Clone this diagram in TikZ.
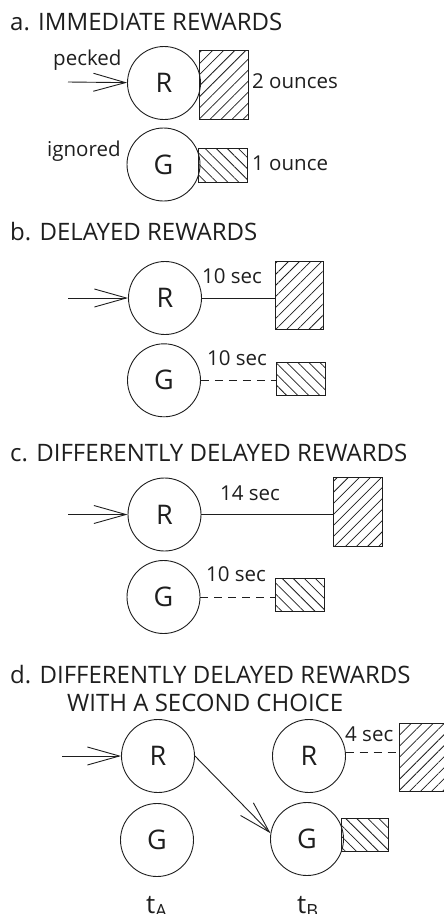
\documentclass[tikz,border=0pt]{standalone}
\usepackage{fontspec}
\setmainfont{Open Sans}
\usetikzlibrary{arrows.meta,patterns.meta}
\definecolor{ink}{HTML}{1E1E1E}
\tikzset{
  key/.style={circle, draw=ink, line width=0.9pt, minimum size=73pt, inner sep=0pt,
              font=\fontsize{27}{32}\selectfont, text=ink},
  bigbox/.style={draw=ink, line width=0.9pt, inner sep=0pt, anchor=north west,
                 pattern={Lines[angle=45, distance=7.8pt, line width=0.75pt]}, pattern color=ink},
  smallbox/.style={draw=ink, line width=0.9pt, inner sep=0pt, anchor=north west,
                 pattern={Lines[angle=-45, distance=7.8pt, line width=0.75pt]}, pattern color=ink},
  heading/.style={anchor=base west, inner sep=0pt, text=ink, font=\fontsize{24}{28}\selectfont},
  lbl/.style={anchor=base west, inner sep=0pt, text=ink, font=\fontsize{20.5}{24}\selectfont},
  wire/.style={draw=ink, line width=0.9pt},
  delay/.style={wire, dash pattern=on 8pt off 6pt},
  peck/.style={wire, -{Straight Barb[length=32pt, width=18pt, line width=0.9pt]}},
}
\begin{document}
\begin{tikzpicture}[x=1pt, y=-1pt]
\path[use as bounding box] (0,0) rectangle (444,914);
\clip (0,0) rectangle (444,914);

% ---- a. immediate rewards
\node[heading] (ta) at (10,30) {a. IMMEDIATE REWARDS};
\node[key] (Ra) at (164,83) {R};
\node[key] (Ga) at (163.5,164.5) {G};
\node[bigbox, minimum width=49pt, minimum height=69pt] (Ba) at (199,50) {};
\node[smallbox, minimum width=49pt, minimum height=34pt] (Sa) at (198,148) {};
\node[lbl] (pk) at (53,65) {pecked};
\node[lbl] (ig) at (47,156) {ignored};
\node[lbl] (oz2) at (252,88) {2 ounces};
\node[lbl] (oz1) at (252,170) {1 ounce};
\coordinate (ina) at (68,82);
\draw[peck] (ina) -- (Ra);

% ---- b. delayed rewards
\node[heading] (tb) at (10,240) {b. DELAYED REWARDS};
\node[key] (Rb) at (165,298) {R};
\node[key] (Gb) at (164,380.3) {G};
\node[bigbox, minimum width=48pt, minimum height=68pt] (Bb) at (275,261) {};
\node[smallbox, minimum width=49pt, minimum height=33pt] (Sb) at (276,362) {};
\node[lbl] (db1) at (202,283) {10 sec};
\node[lbl] (db2) at (207,365) {10 sec};
\coordinate (inb) at (68,298);
\draw[peck] (inb) -- (Rb);
\draw[wire] (Rb.east) -- (Rb.east -| Bb.west);
\draw[delay] (Gb.east) -- (Gb.east -| Sb.west);

% ---- c. differently delayed rewards
\node[heading] (tc) at (10,461.7) {c. DIFFERENTLY DELAYED REWARDS};
\node[key] (Rc) at (164.5,514.5) {R};
\node[key] (Gc) at (163.5,597) {G};
\node[bigbox, minimum width=49pt, minimum height=69pt] (Bc) at (333,477) {};
\node[smallbox, minimum width=49pt, minimum height=33pt] (Sc) at (275,578) {};
\node[lbl] (dc1) at (220,500) {14 sec};
\node[lbl] (dc2) at (206,581.7) {10 sec};
\coordinate (inc) at (68,514.5);
\draw[peck] (inc) -- (Rc);
\draw[wire] (Rc.east) -- (Rc.east -| Bc.west);
\draw[delay] (Gc.east) -- (Gc.east -| Sc.west);

% ---- d. differently delayed rewards with a second choice
\node[heading] (td) at (10,683) {d. DIFFERENTLY DELAYED REWARDS};
\node[heading] (td2) at (67,711.7) {WITH A SECOND CHOICE};
\node[key] (RA) at (158,756) {R};
\node[key] (GA) at (157,840) {G};
\node[key] (RB) at (309,756) {R};
\node[key] (GB) at (307,839) {G};
\node[bigbox, minimum width=60pt, minimum height=68pt] (Bd) at (399,723) {};
\node[smallbox, minimum width=47pt, minimum height=33pt] (Sd) at (341,818) {};
\node[lbl] (dd) at (345,741.7) {4 sec};
\coordinate (ind) at (62,756);
\draw[peck] (ind) -- (RA);
\draw[peck] (RA.east) -- (GB.171);
\draw[delay] (RB.6) -- (RB.6 -| Bd.west);
\node[heading, font=\fontsize{26}{30}\selectfont] (tA) at (146,913) {t\textsubscript{A}};
\node[heading, font=\fontsize{26}{30}\selectfont] (tB) at (297,913) {t\textsubscript{B}};
\end{tikzpicture}
\end{document}
